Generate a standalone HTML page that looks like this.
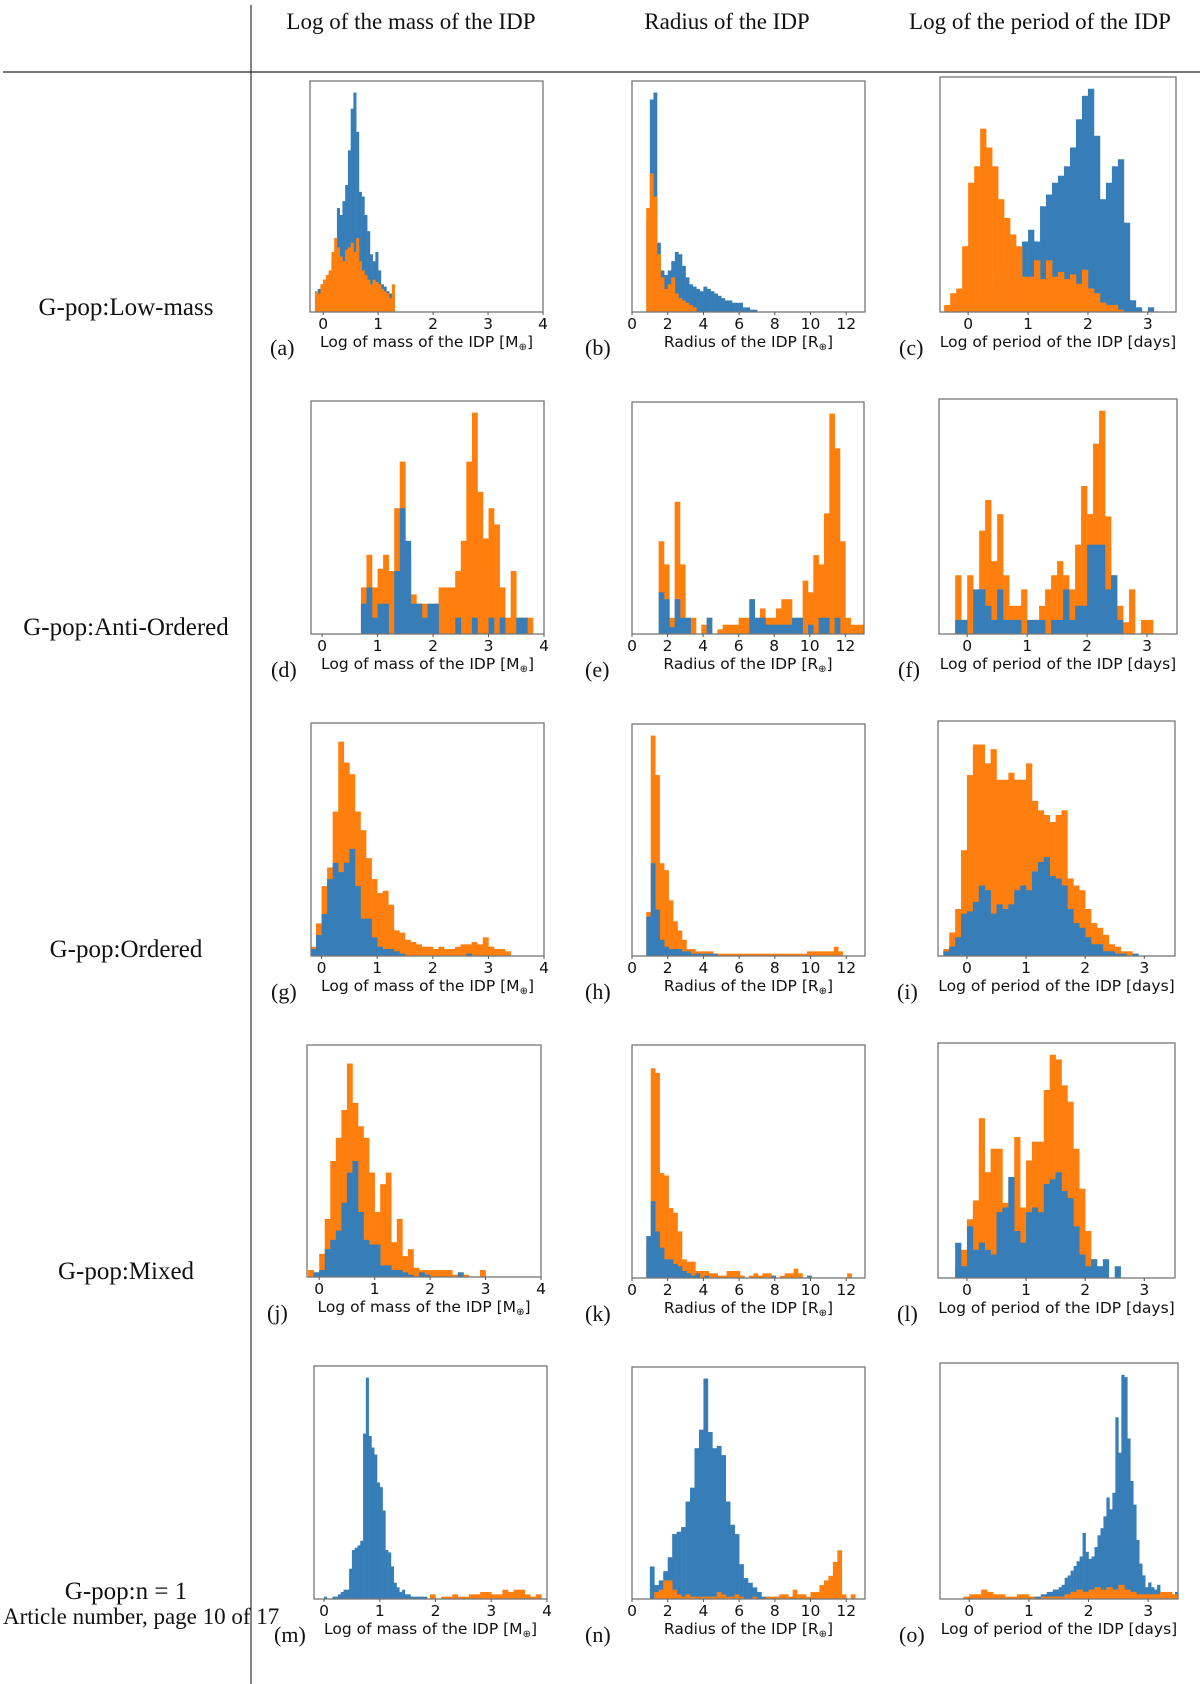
<!DOCTYPE html>
<html><head><meta charset="utf-8"><title>IDP histograms</title>
<style>
html,body{margin:0;padding:0;background:#fff;}
svg{display:block;}
.hdr{font-family:"Liberation Serif",serif;font-size:23px;fill:#111;}
.row{font-family:"Liberation Serif",serif;font-size:25px;fill:#111;}
.tick{font-family:"DejaVu Sans","Liberation Sans",sans-serif;font-size:15.5px;fill:#111;}
.alab{font-family:"DejaVu Sans","Liberation Sans",sans-serif;font-size:15.5px;fill:#111;}
.let{font-family:"Liberation Serif",serif;font-size:22px;fill:#111;}
</style></head>
<body>
<svg id="fig" width="1200" height="1684" viewBox="0 0 1200 1684" xmlns="http://www.w3.org/2000/svg">
<line x1="3" y1="72" x2="1200" y2="72" stroke="#777" stroke-width="2"/>
<line x1="251" y1="5" x2="251" y2="1684" stroke="#333" stroke-width="1.2"/>
<text class="hdr" x="411" y="29" text-anchor="middle">Log of the mass of the IDP</text>
<text class="hdr" x="727" y="29" text-anchor="middle">Radius of the IDP</text>
<text class="hdr" x="1040" y="29" text-anchor="middle">Log of the period of the IDP</text>
<text class="row" x="126" y="315" text-anchor="middle">G-pop:Low-mass</text>
<text class="row" x="126" y="635" text-anchor="middle">G-pop:Anti-Ordered</text>
<text class="row" x="126" y="957" text-anchor="middle">G-pop:Ordered</text>
<text class="row" x="126" y="1279" text-anchor="middle">G-pop:Mixed</text>
<text class="row" x="126" y="1599" text-anchor="middle">G-pop:n = 1</text>
<text class="row" x="3" y="1624" style="font-size:23px">Article number, page 10 of 17</text>
<g id="panels"></g>
</svg>
<script>
const tickMass=[0,1,2,3,4];
const tickRad=[0,2,4,6,8,10,12];
const tickPer=[0,1,2,3];
const aBlueBin=[-0.15,0.05];
const aBlue=[5,10,12,14,15,17,22,25,45,42,48,55,70,88,95,78,52,50,42,35,25,22,26,18,12,11,9,8,8];
const aOrangeBin=[-0.15,0.05];
const aOrange=[9,8,12,14,16,18,26,32,28,24,22,27,28,30,26,32,22,18,16,14,12,14,13,12,10,9,8,6,12];
const bBlueBin=[0.8,0.2];
const bBlue=[40,92,95,30,18,16,18,22,26,25,20,15,12,11,10,9,11,10,9,8,7,6,5,5,4,4,4,2,2,1,1];
const bOrangeBin=[0.8,0.2];
const bOrange=[45,60,50,25,15,10,12,15,8,6,5,4,3,2];
const cBlueBin=[-0.4,0.1];
const cBlue=[2,1,0,0,0,2,4,6,10,15,20,22,25,30,35,30,45,50,55,58,62,70,82,92,95,75,48,55,62,65,38,5,2,0,2];
const cOrangeBin=[-0.4,0.1];
const cOrange=[3,8,10,28,55,62,78,70,62,48,40,33,28,15,15,22,14,22,15,17,14,16,12,18,10,8,4,3,3,1];
const dBin=[0.7,0.1];
const dOrange=[20,34,20,28,34,27,54,74,34,17,13,13,13,13,20,20,20,27,40,74,95,61,41,54,47,20,7,27,7,7,7];
const dBlue=[13,20,7,13,13,0,27,54,40,13,13,7,13,13,0,0,0,7,0,0,7,0,0,7,0,7,0,0,7,7,0];
const eBin=[1.5,0.3];
const eOrange=[40,30,7,57,30,7,7,0,4,7,0,2,4,4,4,7,7,15,7,11,7,7,11,15,15,7,7,23,18,34,30,52,95,80,40,7,4,4,4];
const eBlue=[18,15,3,15,7,7,0,0,0,7,0,0,0,0,0,0,0,15,7,7,4,4,4,4,4,7,7,0,4,0,7,7,0,7,0,0,0,0,0];
const fBin=[-0.2,0.1];
const fOrange=[25,6,25,12,44,57,31,51,25,12,12,19,6,6,12,19,25,31,25,19,38,63,51,81,95,50,25,12,5,19,0,6,6,0];
const fBlue=[6,6,0,19,19,12,6,19,6,6,6,0,6,6,6,0,6,6,19,6,12,12,38,38,38,19,25,6,0,0,0,0,0,0];
const gBin=[-0.2,0.1];
const gOrange=[4,14,30,38,62,92,83,78,62,54,42,33,27,28,22,11,10,7,6,5,4,4,3,4,3,3,4,5,5,6,5,8,4,3,3,2];
const gBlue=[3,9,18,33,40,36,40,46,30,16,16,8,4,3,3,2,1,0,0,0,0,0,0,0,0,0,0,0,1,0,0,0,0,0,0,0];
const hBin=[0.8,0.25];
const hOrange=[19,95,78,40,37,24,15,11,7,3,3,2,2,2,2,1,1,1,1,1,1,1,1,1,1,1,1,1,1,1,1,1,1,1,1,1,2,2,2,2,2,2,4,2];
const hBlue=[17,40,20,7,4,3,3,3,2,2,1,1,1,1,1,1];
const iBin=[-0.4,0.1];
const iOrange=[3,10,20,45,77,90,90,82,88,75,75,78,75,75,82,66,62,60,57,60,62,33,30,28,20,14,12,9,5,4,2,2,1,0];
const iBlue=[2,4,8,18,19,23,30,28,18,22,20,22,28,30,28,36,40,42,34,33,30,20,14,12,8,5,5,2,2,1,1,0,1,0];
const jBin=[-0.2,0.1];
const jOrange=[3,2,10,25,50,60,72,92,75,65,60,45,28,40,45,15,25,9,12,4,3,3,3,3,3,3,1,2,1,0,0,3,0];
const jBlue=[0,2,3,12,16,20,32,45,50,28,16,14,14,5,5,3,3,2,1,0,2,1,0,0,0,0,0,2,0,0,0,0,0];
const kBin=[0.8,0.25];
const kOrange=[15,90,88,45,44,30,28,20,8,7,7,3,3,3,2,2,1,1,3,3,3,1,0,1,2,1,2,2,1,0,1,2,2,4,2,0,1,0,0,0,0,0,0,0,0,2];
const kBlue=[18,33,20,13,8,8,6,5,3,2,1,2,0,1,0,0,0,0,0,0,0,0,0,0,0,0,0,0,1,0,0,0,0,0,0,0,1];
const lBin=[-0.2,0.1];
const lOrange=[5,12,25,33,68,45,55,55,32,42,60,30,50,58,58,80,95,93,82,75,55,38,20,3,0,0,0,0,0];
const lBlue=[15,5,22,12,15,12,10,28,30,43,20,15,28,30,28,40,42,45,37,34,22,10,5,8,5,8,0,5,0];
const mBlueBin=[0.0,0.05];
const mBlue=[1,0,0,1,1,2,3,4,4,13,21,22,23,25,71,95,70,65,62,50,48,38,21,20,14,7,5,3,4,2,2,1,1,1,1,1,1];
const mOrangeBin=[1.9,0.1];
const mOrange=[2,0,1,1,2,1,1,2,2,3,3,2,2,4,3,4,4,2,1,2,0];
const nBin=[1.0,0.25];
const nBlue=[14,6,8,12,18,28,29,31,42,48,65,73,95,72,65,66,62,42,32,28,15,9,7,5,3,1,1,0,1,1,1,0,0,0,0,0,0,0,0,0,0,0,0,0,0,0];
const nOrange=[0,3,4,8,8,4,2,1,2,1,1,1,1,1,1,3,2,1,1,2,1,0,0,1,0,0,1,1,1,2,2,1,4,2,2,1,3,3,6,8,10,16,21,2,0,2];
const oBlueBin=[1.0,0.05];
const oBlue=[1,1,1,1,2,2,3,3,4,4,5,6,9,10,12,14,16,18,28,20,17,18,22,27,30,35,43,38,45,77,62,95,94,68,50,40,25,15,10,5,7,5,4,6,2,2,2,2,2,3];
const oOrangeBin=[-0.1,0.1];
const oOrange=[1,2,2,4,3,2,2,1,1,2,2,1,0,1,1,1,1,2,3,4,3,4,5,4,5,4,6,4,3,2,2,2,2,3,3,2];

const LM='Log of mass of the IDP [M', LR='Radius of the IDP [R', LP='Log of period of the IDP [days]';
const panels=[
 {k:'a',box:[310,81,543,312],xl:[-0.24,4],t:tickMass,lab:LM,sub:true,of:true,b:aBlue,bb:aBlueBin,o:aOrange,ob:aOrangeBin,lx:-40},
 {k:'b',box:[632,81,865,312],xl:[0,13.05],t:tickRad,lab:LR,sub:true,of:true,b:bBlue,bb:bBlueBin,o:bOrange,ob:bOrangeBin,lx:-47},
 {k:'c',box:[940,77,1176,312],xl:[-0.47,3.47],t:tickPer,lab:LP,sub:false,of:true,b:cBlue,bb:cBlueBin,o:cOrange,ob:cOrangeBin,lx:-41},
 {k:'d',box:[311,401,544,634],xl:[-0.2,4],t:tickMass,lab:LM,sub:true,of:false,b:dBlue,bb:dBin,o:dOrange,ob:dBin,lx:-40},
 {k:'e',box:[632,402,864,634],xl:[0,13.05],t:tickRad,lab:LR,sub:true,of:false,b:eBlue,bb:eBin,o:eOrange,ob:eBin,lx:-47},
 {k:'f',box:[939,399,1177,634],xl:[-0.47,3.5],t:tickPer,lab:LP,sub:false,of:false,b:fBlue,bb:fBin,o:fOrange,ob:fBin,lx:-41},
 {k:'g',box:[311,723,544,956],xl:[-0.19,4],t:tickMass,lab:LM,sub:true,of:false,b:gBlue,bb:gBin,o:gOrange,ob:gBin,lx:-40},
 {k:'h',box:[632,724,865,956],xl:[0,13.05],t:tickRad,lab:LR,sub:true,of:false,b:hBlue,bb:hBin,o:hOrange,ob:hBin,lx:-47},
 {k:'i',box:[938,721,1175,956],xl:[-0.49,3.52],t:tickPer,lab:LP,sub:false,of:false,b:iBlue,bb:iBin,o:iOrange,ob:iBin,lx:-41},
 {k:'j',box:[307,1045,541,1277],xl:[-0.22,4],t:tickMass,lab:LM,sub:true,of:false,b:jBlue,bb:jBin,o:jOrange,ob:jBin,lx:-40},
 {k:'k',box:[632,1045,865,1278],xl:[0,13.05],t:tickRad,lab:LR,sub:true,of:false,b:kBlue,bb:kBin,o:kOrange,ob:kBin,lx:-47},
 {k:'l',box:[938,1043,1175,1278],xl:[-0.49,3.52],t:tickPer,lab:LP,sub:false,of:false,b:lBlue,bb:lBin,o:lOrange,ob:lBin,lx:-41},
 {k:'m',box:[314,1366,547,1599],xl:[-0.18,4],t:tickMass,lab:LM,sub:true,of:true,b:mBlue,bb:mBlueBin,o:mOrange,ob:mOrangeBin,lx:-40},
 {k:'n',box:[632,1367,865,1599],xl:[0,13.05],t:tickRad,lab:LR,sub:true,of:true,b:nBlue,bb:nBin,o:nOrange,ob:nBin,lx:-47},
 {k:'o',box:[940,1363,1178,1599],xl:[-0.49,3.5],t:tickPer,lab:LP,sub:false,of:true,b:oBlue,bb:oBlueBin,o:oOrange,ob:oOrangeBin,lx:-41}
];
const NS='http://www.w3.org/2000/svg';
const root=document.getElementById('panels');
function mk(tag,attrs,parent){const e=document.createElementNS(NS,tag);for(const a in attrs)e.setAttribute(a,attrs[a]);parent.appendChild(e);return e;}
function drawSeries(g,p,vals,bin,color,name,sx,sy){
  const s=mk('g',{},g);
  
  
  vals.forEach((v,i)=>{
    if(v<=0)return;
    let x0=bin[0]+i*bin[1], x1=x0+bin[1];
    x0=Math.max(x0,p.xl[0]); x1=Math.min(x1,p.xl[1]);
    if(x1<=x0)return;
    const X0=sx(x0), X1=sx(x1), Y=sy(v);
    const r=mk('rect',{x:X0,y:Y,width:X1-X0+0.3,height:sy(0)-Y,fill:color},s);
    
    
  });
}
panels.forEach(p=>{
  const [L,T,R,B]=p.box;
  const g=mk('g',{},root);
  
  
  const sx=v=>L+(v-p.xl[0])/(p.xl[1]-p.xl[0])*(R-L);
  const sy=v=>B-v/100*(B-T);
  if(p.of){
    drawSeries(g,p,p.b,p.bb,'#377eb8','blue-series',sx,sy);
    drawSeries(g,p,p.o,p.ob,'#ff7f0e','orange-series',sx,sy);
  }else{
    drawSeries(g,p,p.o,p.ob,'#ff7f0e','orange-series',sx,sy);
    drawSeries(g,p,p.b,p.bb,'#377eb8','blue-series',sx,sy);
  }
  const fr=mk('rect',{x:L,y:T,width:R-L,height:B-T,fill:'none',stroke:'#777','stroke-width':1.3},g);
  
  
  p.t.forEach(t=>{
    const X=sx(t);
    const tl=mk('line',{x1:X,y1:B,x2:X,y2:B+3,stroke:'#555','stroke-width':1},g);
    
    
    const tx=mk('text',{x:X,y:B+17,'text-anchor':'middle',class:'tick'},g);
    tx.textContent=String(t);
    
    
  });
  const al=mk('text',{x:(L+R)/2,y:B+35,'text-anchor':'middle',class:'alab'},g);
  
  
  if(p.sub){
    al.appendChild(document.createTextNode(p.lab));
    const ts=mk('tspan',{'font-size':'10px',dy:'3'},al);ts.textContent='\u2295';
    const ts2=mk('tspan',{dy:'-3'},al);ts2.textContent=']';
  }else{ al.textContent=p.lab; }
  const lt=mk('text',{x:L+p.lx,y:B+43,class:'let'},g);
  lt.textContent='('+p.k+')';
  
  
});
</script>
</body></html>
